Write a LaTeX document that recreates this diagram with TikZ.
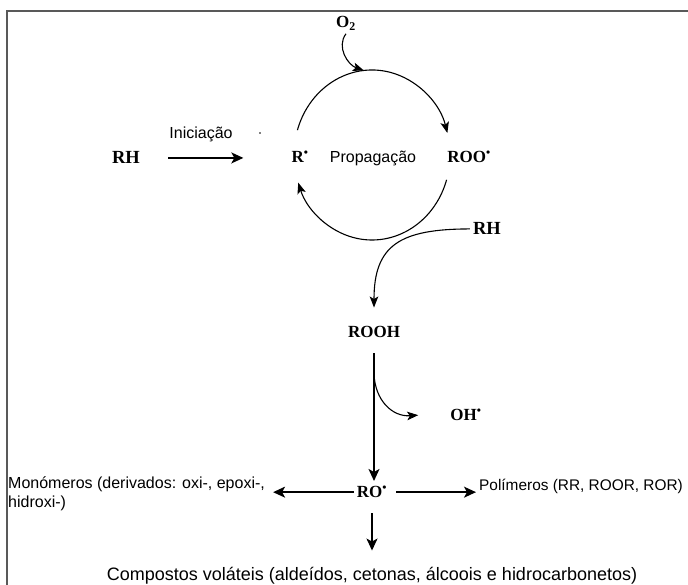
\documentclass[tikz,border=0pt]{standalone}
\usepackage{fontspec}
\setmainfont{Liberation Serif}
\setsansfont{Liberation Sans}
\usepackage{tikz}
\usetikzlibrary{arrows.meta, positioning, calc}
\tikzset{
		species/.style={
			font=\bfseries\fontsize{17}{19}\selectfont,
			anchor=base,
			inner sep=3pt
		},
		big species/.style={
			species,
			font=\bfseries\fontsize{18.5}{20}\selectfont
		},
		note/.style={
			font=\sffamily\fontsize{16}{19}\selectfont,
			inner sep=3pt
		},
		reaction/.style={
			line width=1.4pt,
			-{Stealth[length=12pt,width=11pt,inset=3pt]}
		},
		bend reaction/.style={
			line width=1.1pt,
			-{Stealth[length=11pt,width=8.5pt,inset=2.5pt]}
		},
		frame line/.style={draw=black!65, line width=1.8pt}
	}

\begin{document}
\begin{tikzpicture}[x=1pt, y=1pt]
	\useasboundingbox (0,0) rectangle (688,585);
	\draw[frame line] (7,0) |- (700,574);
	% cycle of propagation
	\coordinate (hub) at (372,430);
	\node[note, anchor=base] (prop) at (373,422) {Propagação};
	\node[species] (r) at (300,422) {R\textsuperscript{\textbullet}};
	\node[species] (roo) at (469,422) {ROO\textsuperscript{\textbullet}};
	\node[species] (o2) at (346,557) {O\textsubscript{2}};
	\draw[bend reaction] (hub) ++(163:78pt and 85pt)
		arc[start angle=163, end angle=15, x radius=78pt, y radius=85pt];
	\draw[bend reaction] (hub) ++(-17:78pt and 85pt)
		arc[start angle=-17, end angle=-161, x radius=78pt, y radius=85pt];
	\path (hub) ++(96:78pt and 85pt) coordinate (o2in);
	\draw[bend reaction] (o2.south) .. controls (336,538) and (348,520) .. (o2in);
	% initiation
	\node[big species] (rh1) at (126,421) {RH};
	\node[note, anchor=base] (init) at (201,446) {Iniciação};
	\fill (260,452) circle (0.8pt);
	\draw[reaction, shorten <=25pt, shorten >=45pt] (rh1.east) -- (rh1.east -| r.west);
	% hydroperoxide
	\node[big species] (rh2) at (487,350) {RH};
	\node[species] (rooh) at (374,247) {ROOH};
	\draw[bend reaction, shorten >=16pt] (rh2.west) .. controls (400,356) and (374,340) .. (rooh.north);
	\node[species] (oh) at (466,164) {OH\textsuperscript{\textbullet}};
	\node[species] (ro) at (372,87) {RO\textsuperscript{\textbullet}};
	\draw[reaction, shorten <=12pt, shorten >=2pt] (rooh.south) -- (rooh.south |- ro.north);
	\coordinate (split) at (374,211);
	\draw[bend reaction] (split) .. controls (375,185) and (392,168) .. ([xshift=-29pt]oh.west);
	% products
	\node[note, anchor=north west, align=left, inner xsep=8pt] (mono) at (0,111)
		{Monómeros (derivados: oxi-, epoxi-,\\hidroxi-)};
	\node[note, anchor=base west, inner xsep=1pt, font=\sffamily\fontsize{15.4}{18}\selectfont] (poly) at (478,94)
		{Polímeros (RR, ROOR, ROR)};
	\node[note, anchor=base, font=\sffamily\fontsize{18}{20}\selectfont] (vol) at (372,4)
		{Compostos voláteis (aldeídos, cetonas, álcoois e hidrocarbonetos)};
	\draw[reaction] (ro.west) -- (ro.west -| mono.east);
	\draw[reaction, shorten <=6pt, shorten >=2pt] (ro.east) -- (ro.east -| poly.west);
	\draw[reaction, shorten <=12pt, shorten >=14pt] (ro.south) -- (ro.south |- vol.north);
\end{tikzpicture}
\end{document}
